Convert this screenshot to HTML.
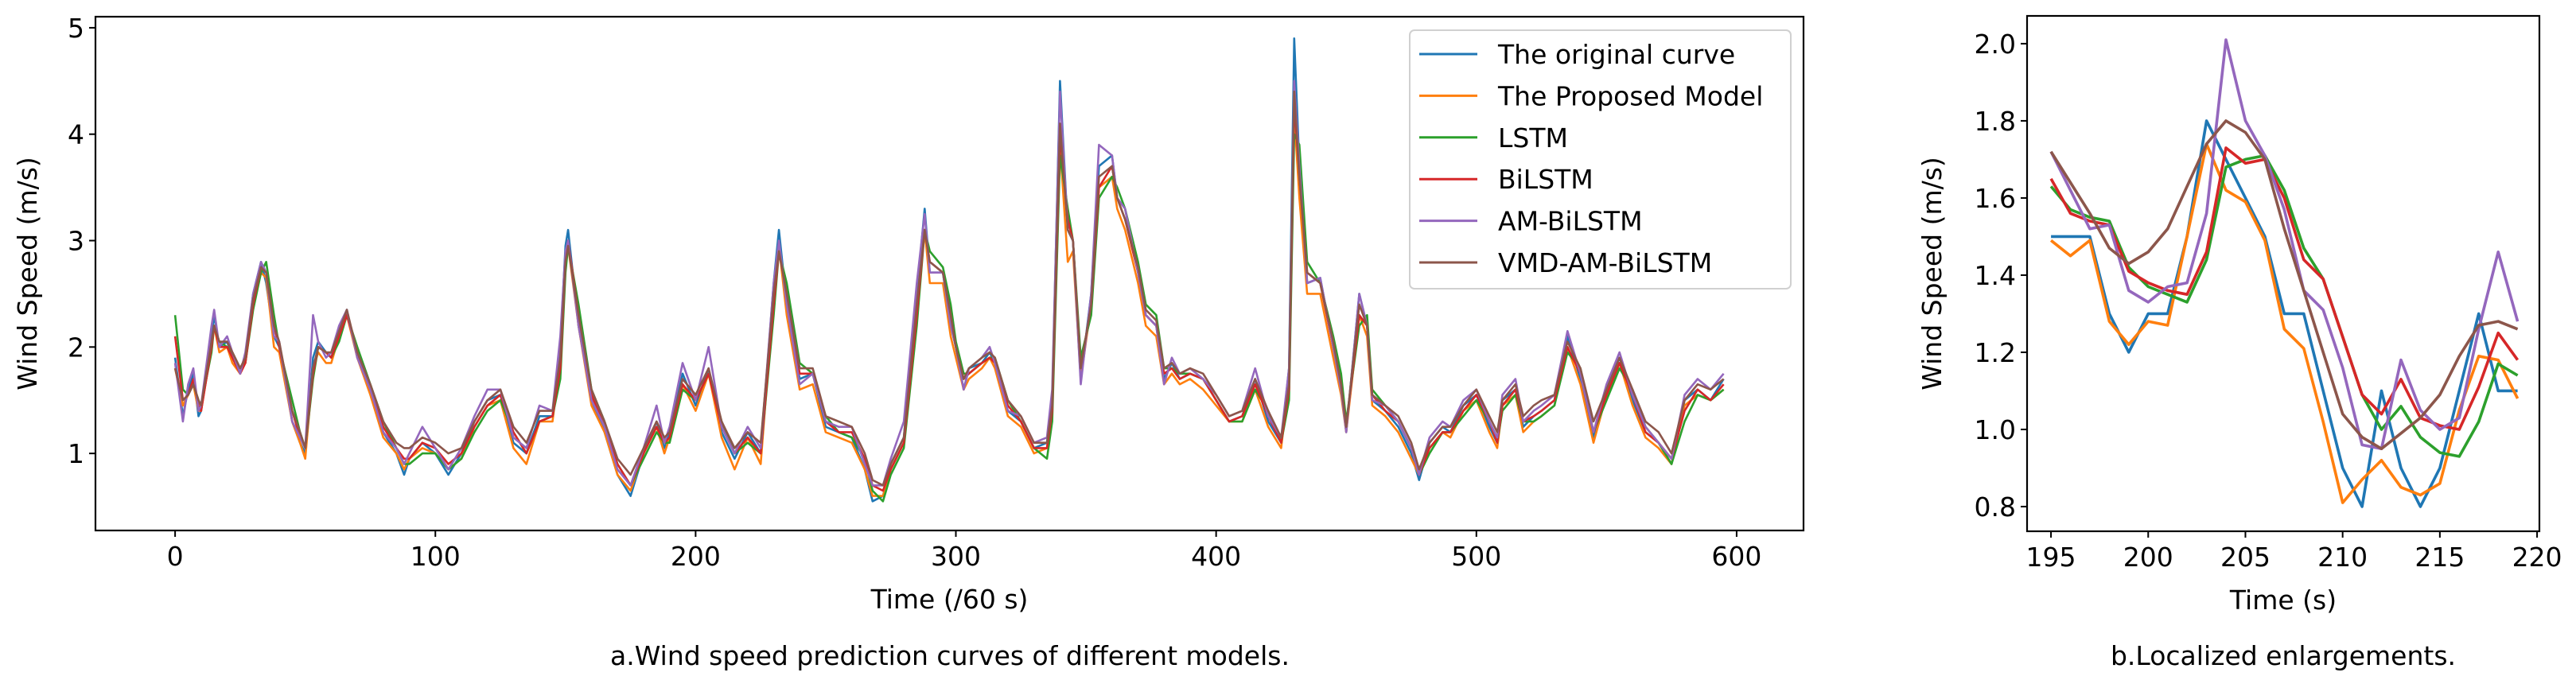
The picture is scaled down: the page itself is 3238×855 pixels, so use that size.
<!DOCTYPE html>
<html><head><meta charset="utf-8"><style>
html,body{margin:0;padding:0;background:#fff}
svg{display:block}
text{font-family:"DejaVu Sans","Liberation Sans",sans-serif;fill:#000}
</style></head><body>
<svg id="fig" width="3238" height="855" viewBox="0 0 3238 855" xmlns="http://www.w3.org/2000/svg">
<g id="main"></g>
<g id="zoomc"></g>
<text x="1194" y="836" font-size="33" text-anchor="middle">a.Wind speed prediction curves of different models.</text>
<text x="2870" y="836" font-size="33" text-anchor="middle">b.Localized enlargements.</text>
</svg>
<script>
const seriesNames = ["The original curve","The Proposed Model","LSTM","BiLSTM","AM-BiLSTM","VMD-AM-BiLSTM"];
const seriesColors = ["#1f77b4","#ff7f0e","#2ca02c","#d62728","#9467bd","#8c564b"];
const mainT = [0,3,5,7,9,10,14,15,17,20,22,25,27,30,33,35,38,40,45,48,50,53,55,58,60,63,66,70,75,80,85,88,90,95,100,105,110,115,120,125,130,135,140,145,148,150,151,155,160,165,170,175,180,185,188,190,195,200,205,210,215,220,225,230,232,235,240,245,250,255,260,265,268,272,275,280,285,288,290,295,298,300,303,305,310,313,315,320,325,330,335,337,340,343,345,348,352,355,360,362,365,370,373,377,380,383,386,390,395,400,405,410,415,420,425,428,430,432,435,440,445,448,450,455,458,460,465,470,475,478,482,487,490,495,500,505,508,510,515,518,522,525,530,535,540,545,550,555,560,565,570,575,580,585,590,595];
const mainOrig = [1.9,1.35,1.6,1.75,1.35,1.4,2.1,2.3,2.0,2.05,1.9,1.75,1.9,2.5,2.8,2.6,2.1,2.0,1.3,1.1,1.0,1.9,2.05,1.95,1.9,2.15,2.35,1.9,1.6,1.2,1.0,0.8,0.95,1.1,1.0,0.8,1.0,1.3,1.5,1.55,1.1,1.0,1.35,1.35,2.0,2.95,3.1,2.2,1.5,1.2,0.8,0.6,1.0,1.3,1.05,1.2,1.75,1.45,1.8,1.2,0.95,1.2,1.0,2.6,3.1,2.4,1.7,1.75,1.25,1.2,1.15,0.85,0.55,0.6,0.9,1.15,2.5,3.3,2.7,2.7,2.2,2.0,1.6,1.8,1.85,1.95,1.85,1.4,1.3,1.05,1.1,1.5,4.5,3.1,3.0,1.7,2.5,3.7,3.8,3.4,3.3,2.7,2.3,2.2,1.7,1.85,1.7,1.75,1.7,1.5,1.3,1.35,1.7,1.3,1.1,1.8,4.9,3.7,2.6,2.65,2.0,1.6,1.2,2.5,2.2,1.5,1.4,1.25,1.0,0.75,1.1,1.25,1.2,1.45,1.55,1.25,1.1,1.5,1.6,1.25,1.35,1.4,1.5,2.1,1.7,1.15,1.6,1.9,1.5,1.2,1.1,0.9,1.5,1.6,1.5,1.7];
const mainProposed = [1.8,1.45,1.55,1.65,1.4,1.4,2.0,2.2,1.95,2.0,1.85,1.75,1.85,2.4,2.7,2.65,2.0,1.95,1.3,1.1,0.95,1.8,1.95,1.85,1.85,2.1,2.3,1.9,1.55,1.15,1.0,0.85,0.95,1.05,1.0,0.85,0.95,1.25,1.45,1.5,1.05,0.9,1.3,1.3,1.9,2.8,2.95,2.2,1.45,1.2,0.8,0.65,1.0,1.25,1.0,1.15,1.65,1.4,1.75,1.15,0.85,1.15,0.9,2.5,2.95,2.3,1.6,1.65,1.2,1.15,1.1,0.85,0.6,0.6,0.85,1.1,2.4,3.1,2.6,2.6,2.1,1.9,1.6,1.7,1.8,1.9,1.8,1.35,1.25,1.0,1.05,1.45,3.9,2.8,2.9,1.7,2.4,3.5,3.6,3.3,3.1,2.6,2.2,2.1,1.65,1.75,1.65,1.7,1.6,1.45,1.3,1.3,1.6,1.25,1.05,1.7,4.2,3.4,2.5,2.5,1.9,1.55,1.2,2.3,2.1,1.45,1.35,1.2,0.95,0.8,1.05,1.2,1.15,1.4,1.5,1.2,1.05,1.45,1.55,1.2,1.3,1.35,1.45,2.0,1.65,1.1,1.55,1.85,1.45,1.15,1.05,0.9,1.45,1.55,1.5,1.6];
const mainLSTM = [2.3,1.6,1.55,1.65,1.5,1.45,1.95,2.2,2.05,2.0,1.95,1.8,1.85,2.35,2.7,2.8,2.3,2.0,1.5,1.2,1.05,1.7,2.0,1.95,1.9,2.05,2.3,2.0,1.65,1.3,1.05,0.9,0.9,1.0,1.0,0.85,0.95,1.2,1.4,1.5,1.2,1.0,1.3,1.35,1.7,2.7,2.95,2.4,1.6,1.3,0.9,0.7,0.95,1.2,1.1,1.1,1.6,1.5,1.75,1.3,1.0,1.1,1.0,2.3,2.9,2.6,1.85,1.75,1.35,1.2,1.15,0.95,0.65,0.55,0.8,1.05,2.2,3.1,2.9,2.75,2.4,2.05,1.75,1.75,1.85,1.9,1.9,1.5,1.3,1.05,0.95,1.3,3.8,3.3,3.0,1.9,2.3,3.4,3.6,3.5,3.3,2.8,2.4,2.3,1.8,1.8,1.75,1.75,1.7,1.5,1.3,1.3,1.6,1.4,1.1,1.5,4.0,3.9,2.8,2.6,2.1,1.75,1.3,2.2,2.3,1.6,1.45,1.3,1.05,0.8,1.0,1.2,1.2,1.35,1.5,1.3,1.1,1.4,1.55,1.3,1.3,1.35,1.45,1.95,1.8,1.2,1.5,1.8,1.6,1.25,1.1,0.9,1.3,1.55,1.5,1.6];
const mainBiLSTM = [2.1,1.5,1.55,1.7,1.45,1.4,2.0,2.2,2.0,2.0,1.9,1.75,1.85,2.4,2.75,2.7,2.2,2.0,1.4,1.15,1.05,1.75,2.0,1.95,1.9,2.1,2.3,1.95,1.6,1.25,1.05,0.95,0.95,1.1,1.05,0.9,1.0,1.25,1.45,1.55,1.2,1.0,1.3,1.35,1.8,2.8,3.0,2.3,1.55,1.25,0.9,0.7,1.0,1.25,1.1,1.15,1.65,1.5,1.75,1.25,1.0,1.15,1.0,2.4,2.9,2.5,1.75,1.75,1.3,1.2,1.2,0.95,0.7,0.65,0.85,1.1,2.3,3.1,2.8,2.7,2.3,2.0,1.7,1.75,1.85,1.9,1.85,1.45,1.3,1.05,1.05,1.4,4.0,3.2,3.0,1.8,2.4,3.5,3.7,3.4,3.2,2.7,2.3,2.2,1.75,1.8,1.7,1.75,1.7,1.5,1.3,1.35,1.65,1.35,1.1,1.6,4.3,3.6,2.7,2.6,2.0,1.65,1.25,2.3,2.2,1.55,1.4,1.3,1.05,0.8,1.05,1.2,1.2,1.4,1.55,1.3,1.1,1.45,1.6,1.3,1.35,1.4,1.5,2.0,1.75,1.2,1.55,1.85,1.55,1.2,1.1,0.95,1.4,1.6,1.5,1.65];
const mainAMBiLSTM = [1.85,1.3,1.65,1.8,1.4,1.45,2.2,2.35,2.0,2.1,1.95,1.75,1.95,2.5,2.8,2.7,2.1,2.05,1.3,1.15,1.05,2.3,2.05,1.9,1.95,2.2,2.35,1.9,1.6,1.2,1.05,0.9,1.0,1.25,1.05,0.85,1.05,1.35,1.6,1.6,1.15,1.05,1.45,1.4,2.1,2.9,3.0,2.2,1.5,1.25,0.85,0.7,1.05,1.45,1.1,1.25,1.85,1.5,2.0,1.25,1.0,1.25,1.05,2.6,3.0,2.4,1.65,1.75,1.3,1.25,1.25,0.9,0.7,0.7,0.95,1.3,2.6,3.25,2.7,2.7,2.2,2.0,1.6,1.8,1.9,2.0,1.85,1.4,1.35,1.1,1.15,1.6,4.4,3.1,3.0,1.65,2.5,3.9,3.8,3.4,3.3,2.7,2.3,2.2,1.65,1.9,1.75,1.8,1.7,1.55,1.35,1.4,1.8,1.35,1.15,1.8,4.5,3.7,2.6,2.65,2.0,1.6,1.2,2.5,2.2,1.5,1.45,1.3,1.05,0.8,1.15,1.3,1.25,1.5,1.6,1.3,1.15,1.55,1.7,1.3,1.4,1.45,1.55,2.15,1.75,1.2,1.65,1.95,1.55,1.25,1.1,0.95,1.55,1.7,1.6,1.75];
const mainVMD = [1.8,1.5,1.55,1.65,1.5,1.45,2.05,2.2,2.05,2.05,1.95,1.8,1.9,2.45,2.75,2.7,2.2,2.05,1.4,1.2,1.05,1.8,2.0,1.95,1.95,2.15,2.35,1.95,1.65,1.3,1.1,1.05,1.05,1.15,1.1,1.0,1.05,1.3,1.5,1.6,1.25,1.1,1.4,1.4,1.9,2.8,2.95,2.3,1.6,1.3,0.95,0.8,1.05,1.3,1.15,1.2,1.7,1.55,1.8,1.3,1.05,1.2,1.1,2.5,2.9,2.5,1.8,1.8,1.35,1.3,1.25,1.0,0.75,0.7,0.9,1.15,2.4,3.1,2.8,2.7,2.3,2.0,1.7,1.8,1.9,1.95,1.9,1.5,1.35,1.1,1.1,1.45,4.1,3.1,3.0,1.8,2.4,3.6,3.7,3.4,3.2,2.75,2.35,2.25,1.8,1.85,1.75,1.8,1.75,1.55,1.35,1.4,1.7,1.4,1.15,1.65,4.4,3.6,2.7,2.6,2.05,1.65,1.25,2.4,2.2,1.55,1.45,1.35,1.1,0.85,1.1,1.25,1.25,1.45,1.6,1.35,1.2,1.5,1.65,1.35,1.45,1.5,1.55,2.05,1.8,1.3,1.6,1.9,1.6,1.3,1.2,1.0,1.5,1.65,1.6,1.7];
const mainXTicks = [0,100,200,300,400,500,600];
const mainYTicks = [1,2,3,4,5];
const zoomT = [195,196,197,198,199,200,201,202,203,204,205,206,207,208,209,210,211,212,213,214,215,216,217,218,219];
const zoomOrig = [1.5,1.5,1.5,1.3,1.2,1.3,1.3,1.5,1.8,1.7,1.6,1.5,1.3,1.3,1.1,0.9,0.8,1.1,0.9,0.8,0.9,1.1,1.3,1.1,1.1];
const zoomProposed = [1.49,1.45,1.49,1.28,1.22,1.28,1.27,1.5,1.74,1.62,1.59,1.49,1.26,1.21,1.02,0.81,0.87,0.92,0.85,0.83,0.86,1.05,1.19,1.18,1.08];
const zoomLSTM = [1.63,1.57,1.55,1.54,1.42,1.37,1.35,1.33,1.44,1.68,1.70,1.71,1.62,1.47,1.39,1.24,1.09,1.00,1.06,0.98,0.94,0.93,1.02,1.17,1.14];
const zoomBiLSTM = [1.65,1.56,1.54,1.53,1.41,1.38,1.36,1.35,1.46,1.73,1.69,1.70,1.60,1.44,1.39,1.24,1.09,1.04,1.13,1.03,1.01,1.00,1.11,1.25,1.18];
const zoomAMBiLSTM = [1.72,1.62,1.52,1.53,1.36,1.33,1.37,1.38,1.56,2.01,1.80,1.71,1.57,1.36,1.31,1.16,0.96,0.95,1.18,1.05,1.00,1.03,1.26,1.46,1.28];
const zoomVMD = [1.72,1.64,1.56,1.47,1.43,1.46,1.52,1.63,1.74,1.80,1.77,1.70,1.52,1.36,1.20,1.04,0.98,0.95,0.99,1.03,1.09,1.19,1.27,1.28,1.26];
const zoomXTicks = [195,200,205,210,215,220];
const zoomYTicks = [0.8,1.0,1.2,1.4,1.6,1.8,2.0];

const NS = "http://www.w3.org/2000/svg";
function mk(parent, tag, attrs, txt){
  const e = document.createElementNS(NS, tag);
  for (const k in attrs) e.setAttribute(k, attrs[k]);
  if (txt !== undefined) e.textContent = txt;
  parent.appendChild(e); return e;
}
function drawChart(g, box, dom, xs, ys, xt, yt, fmt, lw, xlabel, ylabel, ylx, prefix){
  const sx = v => box.l + (v - dom.x0) / (dom.x1 - dom.x0) * (box.r - box.l);
  const sy = v => box.b - (v - dom.y0) / (dom.y1 - dom.y0) * (box.b - box.t);
  ys.forEach((s, i) => {
    const n = Math.min(xs.length, s.length);
    let d = "";
    for (let k = 0; k < n; k++) d += (k ? "L" : "M") + sx(xs[k]).toFixed(1) + " " + sy(s[k]).toFixed(1);
    const p = mk(g, "path", {d: d, fill: "none", stroke: seriesColors[i], "stroke-width": lw, "stroke-linejoin": "round"});
    
    
  });
  const frame = mk(g, "rect", {x: box.l, y: box.t, width: box.r - box.l, height: box.b - box.t, fill: "none", stroke: "#000", "stroke-width": 2.2});
  
  
  xt.forEach(v => {
    const x = sx(v);
    const t = mk(g, "line", {x1: x, x2: x, y1: box.b, y2: box.b + 8, stroke: "#000", "stroke-width": 2});
    
    
    const l = mk(g, "text", {x: x, y: box.b + 44, "font-size": 33, "text-anchor": "middle"}, String(v));
    
    
  });
  yt.forEach(v => {
    const y = sy(v);
    const t = mk(g, "line", {x1: box.l - 8, x2: box.l, y1: y, y2: y, stroke: "#000", "stroke-width": 2});
    
    
    const l = mk(g, "text", {x: box.l - 14, y: y + 12, "font-size": 33, "text-anchor": "end"}, fmt(v));
    
    
  });
  const xl = mk(g, "text", {x: (box.l + box.r) / 2, y: box.b + 98, "font-size": 33, "text-anchor": "middle"}, xlabel);
  
  
  const yc = (box.t + box.b) / 2;
  const yl = mk(g, "text", {x: ylx, y: yc, "font-size": 33, "text-anchor": "middle", transform: "rotate(-90 " + ylx + " " + yc + ")"}, ylabel);
  
  
}
const gm = document.getElementById("main");
drawChart(gm, {l:120, r:2267, t:21, b:667}, {x0:-30.6, x1:625.7, y0:0.276, y1:5.104},
  mainT, [mainOrig, mainProposed, mainLSTM, mainBiLSTM, mainAMBiLSTM, mainVMD],
  mainXTicks, mainYTicks, v => String(v), 2.6, "Time (/60 s)", "Wind Speed (m/s)", 46, "main");
const gz = document.getElementById("zoomc");
drawChart(gz, {l:2548, r:3192, t:20, b:668}, {x0:193.77, x1:220.12, y0:0.736, y1:2.072},
  zoomT, [zoomOrig, zoomProposed, zoomLSTM, zoomBiLSTM, zoomAMBiLSTM, zoomVMD],
  zoomXTicks, zoomYTicks, v => v.toFixed(1), 3.6, "Time (s)", "Wind Speed (m/s)", 2440, "zoom");

// legend
const lg = mk(gm, "g", {});


const lb = mk(lg, "rect", {x: 1772, y: 38, width: 479, height: 325, rx: 6, fill: "#fff", "fill-opacity": 0.9, stroke: "#d0d0d0", "stroke-width": 2});


seriesNames.forEach((name, i) => {
  const y = 68 + i * 52.4;
  const ln = mk(lg, "line", {x1: 1784, x2: 1857, y1: y, y2: y, stroke: seriesColors[i], "stroke-width": 3});
  
  
  const tx = mk(lg, "text", {x: 1883, y: y + 12, "font-size": 33}, name);
  
  
});
</script>
</body></html>
